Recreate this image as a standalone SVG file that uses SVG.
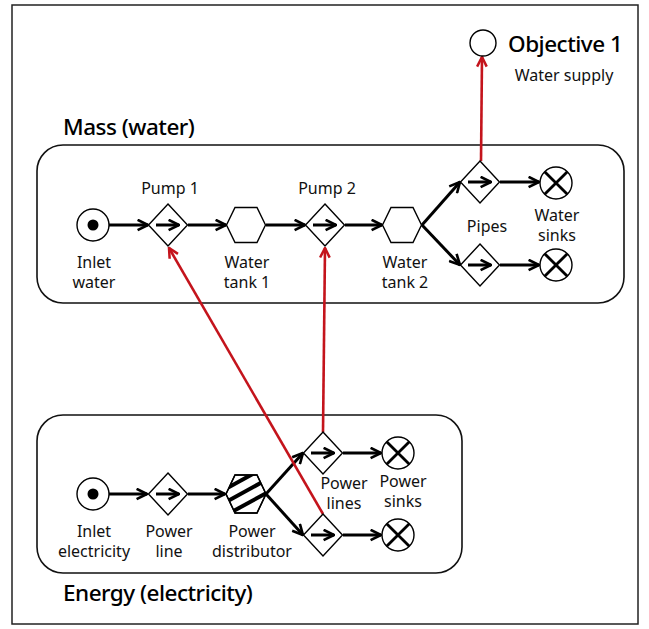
<svg xmlns="http://www.w3.org/2000/svg" width="649" height="629" viewBox="0 0 649 629">
<defs>
<style>
.frame{fill:#fff;stroke:#222;stroke-width:1.5}
.box{fill:none;stroke:#111;stroke-width:1.6}
.sh{fill:#fff;stroke:#000;stroke-width:1.4}
.ln{stroke:#000;stroke-width:3;fill:none}
.rd{stroke:#c4141c;stroke-width:2.6;fill:none}
.lbl{font-family:"Noto Sans","Open Sans",sans-serif;font-size:16px;fill:#111;text-anchor:middle}
.ttl{font-family:"Noto Sans","Open Sans",sans-serif;font-size:22.5px;font-weight:500;fill:#000;letter-spacing:-0.5px}
</style>
<marker id="ah" viewBox="0 0 10 10" refX="9" refY="5" markerWidth="13" markerHeight="13" markerUnits="userSpaceOnUse" orient="auto">
<path d="M1,1 L9,5 L1,9" fill="none" stroke="#000" stroke-width="2"/>
</marker>
<marker id="ahr" viewBox="0 0 10 10" refX="9" refY="5" markerWidth="12" markerHeight="12" markerUnits="userSpaceOnUse" orient="auto">
<path d="M1,1 L9,5 L1,9" fill="none" stroke="#c4141c" stroke-width="2.1"/>
</marker>
<symbol id="dia" overflow="visible">
<polygon points="0,-21 19.5,0 0,21 -19.5,0" class="sh"/>
<line x1="-12" y1="0" x2="11" y2="0" stroke="#000" stroke-width="3" marker-end="url(#ah)"/>
</symbol>
<symbol id="sink" overflow="visible">
<circle r="16" class="sh" stroke-width="2"/>
<path d="M-11.3,-11.3 L11.3,11.3 M11.3,-11.3 L-11.3,11.3" stroke="#000" stroke-width="2.8"/>
</symbol>
<symbol id="hex" overflow="visible">
<polygon points="-19.5,0 -11,-17.5 11,-17.5 19.5,0 11,17.5 -11,17.5" class="sh"/>
</symbol>
<clipPath id="hexclip"><polygon points="226,494 235,475 257,475 266,494 257,513 235,513"/></clipPath>
</defs>

<rect x="12" y="5" width="626" height="619" class="frame"/>

<g id="mass-group">
<rect x="37" y="145" width="587" height="158" rx="26" class="box"/>
<text x="63" y="135" class="ttl">Mass (water)</text>
</g>
<g id="energy-group">
<rect x="37" y="415" width="425" height="158" rx="26" class="box"/>
<text x="63" y="601" class="ttl">Energy (electricity)</text>
</g>

<g id="connectors">
<line x1="109" y1="225" x2="148" y2="225" class="ln" marker-end="url(#ah)"/>
<line x1="188" y1="225" x2="226" y2="225" class="ln" marker-end="url(#ah)"/>
<line x1="266" y1="225" x2="305" y2="225" class="ln" marker-end="url(#ah)"/>
<line x1="345" y1="225" x2="382" y2="225" class="ln" marker-end="url(#ah)"/>
<line x1="422" y1="225" x2="460" y2="182" class="ln" marker-end="url(#ah)"/>
<line x1="422" y1="225" x2="460" y2="265" class="ln" marker-end="url(#ah)"/>
<line x1="500" y1="182" x2="539" y2="182" class="ln" marker-end="url(#ah)"/>
<line x1="500" y1="265" x2="539" y2="265" class="ln" marker-end="url(#ah)"/>
<line x1="109" y1="494" x2="147" y2="494" class="ln" marker-end="url(#ah)"/>
<line x1="188" y1="494" x2="225" y2="494" class="ln" marker-end="url(#ah)"/>
<line x1="266" y1="494" x2="303" y2="453" class="ln" marker-end="url(#ah)"/>
<line x1="266" y1="494" x2="303" y2="535" class="ln" marker-end="url(#ah)"/>
<line x1="343" y1="453" x2="381" y2="453" class="ln" marker-end="url(#ah)"/>
<line x1="343" y1="535" x2="381" y2="535" class="ln" marker-end="url(#ah)"/>
<line x1="481" y1="161" x2="482" y2="57" class="rd" marker-end="url(#ahr)"/>
<line x1="323" y1="432" x2="325" y2="248" class="rd" marker-end="url(#ahr)"/>
<line x1="323" y1="514" x2="169" y2="248" class="rd" marker-end="url(#ahr)"/>
</g>

<g id="objective-1">
<circle cx="483" cy="43" r="13" class="sh" stroke-width="1.6"/>
<text x="508" y="52" class="ttl">Objective 1</text>
<text x="564" y="81" class="lbl">Water supply</text>
</g>

<g id="inlet-water">
<circle cx="93" cy="225" r="16" class="sh" stroke-width="1.8"/>
<circle cx="93" cy="225" r="5.5" fill="#000"/>
<text x="94" y="268" class="lbl">Inlet</text>
<text x="94" y="288" class="lbl">water</text>
</g>
<g id="pump-1">
<use href="#dia" x="168" y="225"/>
<text x="170" y="194" class="lbl">Pump 1</text>
</g>
<g id="water-tank-1">
<use href="#hex" x="246" y="225"/>
<text x="247" y="268" class="lbl">Water</text>
<text x="247" y="288" class="lbl">tank 1</text>
</g>
<g id="pump-2">
<use href="#dia" x="325" y="225"/>
<text x="327" y="194" class="lbl">Pump 2</text>
</g>
<g id="water-tank-2">
<use href="#hex" x="402" y="225"/>
<text x="405" y="268" class="lbl">Water</text>
<text x="405" y="288" class="lbl">tank 2</text>
</g>
<g id="pipes">
<use href="#dia" x="480" y="182"/>
<use href="#dia" x="480" y="265"/>
<text x="487" y="232" class="lbl">Pipes</text>
</g>
<g id="water-sinks">
<use href="#sink" x="556" y="183"/>
<use href="#sink" x="556" y="265"/>
<text x="557" y="221" class="lbl">Water</text>
<text x="557" y="241" class="lbl">sinks</text>
</g>

<g id="inlet-electricity">
<circle cx="93" cy="494" r="16" class="sh" stroke-width="1.8"/>
<circle cx="93" cy="494" r="5.5" fill="#000"/>
<text x="94" y="537" class="lbl">Inlet</text>
<text x="94" y="557" class="lbl">electricity</text>
</g>
<g id="power-line">
<use href="#dia" x="168" y="494"/>
<text x="169" y="537" class="lbl">Power</text>
<text x="169" y="557" class="lbl">line</text>
</g>
<g id="power-distributor">
<polygon points="226,494 235,475 257,475 266,494 257,513 235,513" class="sh"/>
<g clip-path="url(#hexclip)" stroke="#000" stroke-width="4">
<line x1="220" y1="492" x2="260" y2="470"/>
<line x1="224" y1="503" x2="268" y2="479"/>
<line x1="228" y1="514" x2="272" y2="490"/>
</g>
<polygon points="226,494 235,475 257,475 266,494 257,513 235,513" fill="none" stroke="#000" stroke-width="1.4"/>
<text x="252" y="537" class="lbl">Power</text>
<text x="252" y="557" class="lbl">distributor</text>
</g>
<g id="power-lines">
<use href="#dia" x="323" y="453"/>
<use href="#dia" x="323" y="535"/>
<text x="344" y="489" class="lbl">Power</text>
<text x="344" y="509" class="lbl">lines</text>
</g>
<g id="power-sinks">
<use href="#sink" x="398" y="453"/>
<use href="#sink" x="398" y="535"/>
<text x="403" y="487" class="lbl">Power</text>
<text x="403" y="507" class="lbl">sinks</text>
</g>
</svg>
